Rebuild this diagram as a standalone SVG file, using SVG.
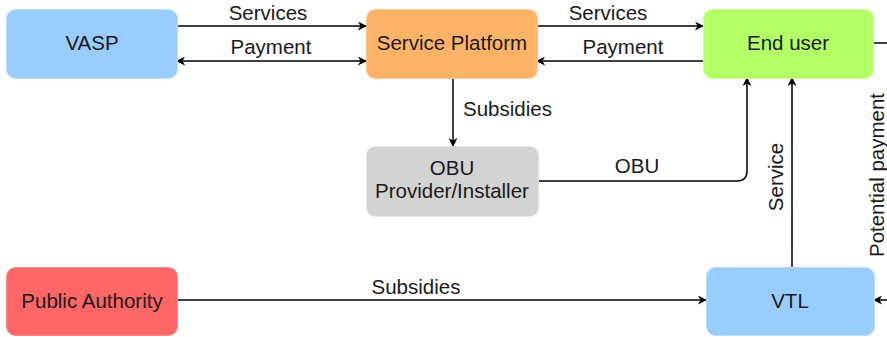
<svg xmlns="http://www.w3.org/2000/svg" width="887" height="337" viewBox="0 0 887 337">
<style>
.node rect{stroke-width:1;}
text{font-family:"Liberation Sans",Arial,sans-serif;font-size:20.5px;fill:#1a1a1a;}
.c{text-anchor:middle;}
.edge{fill:none;stroke:#000;stroke-width:1.5;}
</style>
<defs>
<marker id="ah" viewBox="0 0 10 10" refX="9" refY="5" markerWidth="9" markerHeight="9" markerUnits="userSpaceOnUse" orient="auto-start-reverse">
<path d="M0,0 L10,5 L0,10 L3,5 z" fill="#000"/>
</marker>
</defs>
<rect width="887" height="337" fill="#fff"/>
<g id="connectors">
<path class="edge" d="M177,26 H366" marker-end="url(#ah)"/>
<path class="edge" d="M177,61 H366" marker-start="url(#ah)" marker-end="url(#ah)"/>
<path class="edge" d="M537,26 H703" marker-end="url(#ah)"/>
<path class="edge" d="M703,61 H537" marker-end="url(#ah)"/>
<path class="edge" d="M453,78 V146" marker-end="url(#ah)"/>
<path class="edge" d="M538,181 H737 Q747,181 747,171 V78" marker-end="url(#ah)"/>
<path class="edge" d="M792,268 V78" marker-end="url(#ah)"/>
<path class="edge" d="M177,300 H706" marker-end="url(#ah)"/>
<path class="edge" d="M873,43 H896 V300 H874" marker-end="url(#ah)"/>
<text x="268" y="20" class="c">Services</text>
<text x="271" y="54" class="c">Payment</text>
<text x="608" y="20" class="c">Services</text>
<text x="623" y="54" class="c">Payment</text>
<text x="463" y="116">Subsidies</text>
<text x="637" y="173" class="c">OBU</text>
<text x="416" y="294" class="c">Subsidies</text>
<text class="c" transform="translate(783,177) rotate(-90)">Service</text>
<text class="c" transform="translate(884,175) rotate(-90)">Potential payment</text>
</g>
<g id="vasp" class="node">
<rect x="6.5" y="9.5" width="171" height="69" rx="9" fill="#99CCFF" stroke="#b8dcff"/>
<text x="92" y="50" class="c">VASP</text>
</g>
<g id="service-platform" class="node">
<rect x="366.5" y="9.5" width="171" height="69" rx="9" fill="#FFB366" stroke="#ffc78e"/>
<text x="452" y="50" class="c">Service Platform</text>
</g>
<g id="end-user" class="node">
<rect x="703.5" y="9.5" width="170" height="69" rx="9" fill="#B3FF66" stroke="#c9ff94"/>
<text x="788" y="50" class="c">End user</text>
</g>
<g id="obu" class="node">
<rect x="366.5" y="146.5" width="172" height="70" rx="9" fill="#D3D3D3" stroke="#e2e2e2"/>
<text x="452" y="175" class="c">OBU</text>
<text x="452" y="198" class="c">Provider/Installer</text>
</g>
<g id="public-authority" class="node">
<rect x="6.5" y="267.5" width="171" height="68" rx="9" fill="#FF6666" stroke="#ff8c8c"/>
<text x="92" y="308" class="c">Public Authority</text>
</g>
<g id="vtl" class="node">
<rect x="706.5" y="267.5" width="168" height="68" rx="9" fill="#99CCFF" stroke="#b8dcff"/>
<text x="790" y="308" class="c">VTL</text>
</g>
</svg>
